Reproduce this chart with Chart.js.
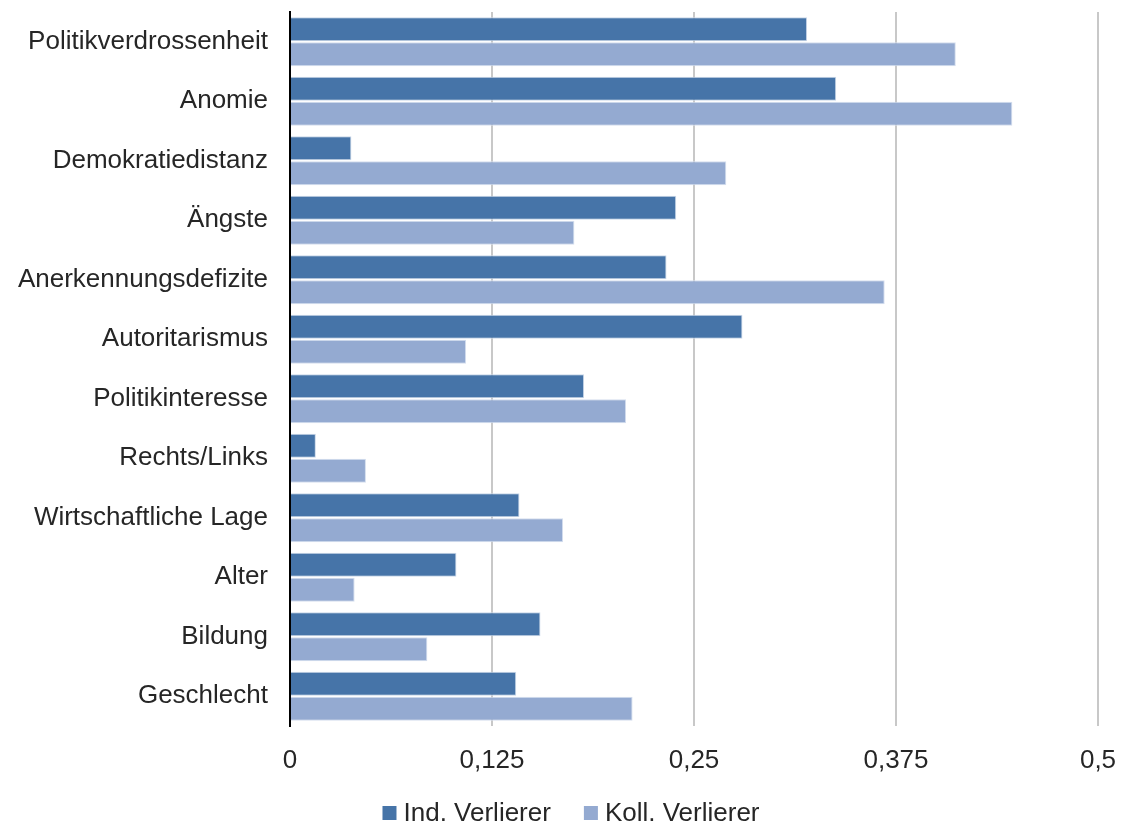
<!DOCTYPE html>
<html>
<head>
<meta charset="utf-8">
<script src="https://cdn.jsdelivr.net/npm/chart.js@4/dist/chart.umd.min.js"></script>
<style>
  html, body { margin: 0; padding: 0; background: #fff; }
  #wrap { width: 1122px; height: 825px; }
</style>
</head>
<body>
<div id="wrap"><canvas id="c" width="1122" height="825"></canvas></div>
<script>
const categories = [
  'Politikverdrossenheit', 'Anomie', 'Demokratiedistanz', 'Ängste',
  'Anerkennungsdefizite', 'Autoritarismus', 'Politikinteresse', 'Rechts/Links',
  'Wirtschaftliche Lage', 'Alter', 'Bildung', 'Geschlecht'
];
const indVerlierer  = [0.320, 0.338, 0.038, 0.239, 0.233, 0.280, 0.182, 0.016, 0.142, 0.103, 0.155, 0.140];
const kollVerlierer = [0.412, 0.447, 0.270, 0.176, 0.368, 0.109, 0.208, 0.047, 0.169, 0.040, 0.085, 0.212];
const tickValues = [0, 0.125, 0.25, 0.375, 0.5];
const seriesNames = ['Ind. Verlierer', 'Koll. Verlierer'];

const FONT = '"Liberation Sans", Arial, sans-serif';
const TEXT = '#262626';

// Legend drawn on the canvas under the axis labels
const bottomLegend = {
  id: 'bottomLegend',
  afterDraw(chart) {
    const ctx = chart.ctx;
    ctx.save();
    ctx.font = '26px ' + FONT;
    ctx.textBaseline = 'middle';
    const box = 14, gap = 7, itemGap = 33;
    const items = chart.data.datasets.map(d => ({ label: d.label, color: d.backgroundColor, w: box + gap + ctx.measureText(d.label).width }));
    const total = items.reduce((s, it) => s + it.w, 0) + itemGap * (items.length - 1);
    let x = (chart.width - total) / 2 + 10;
    const y = 813;
    items.forEach(it => {
      ctx.fillStyle = it.color;
      ctx.fillRect(x, y - box / 2, box, box);
      ctx.fillStyle = TEXT;
      ctx.textAlign = 'left';
      ctx.fillText(it.label, x + box + gap, y + 1);
      x += it.w + itemGap;
    });
    ctx.restore();
  }
};

function noScalePadding(scale) {
  scale.paddingTop = 0;
  scale.paddingBottom = 0;
  scale.paddingLeft = 0;
  scale.paddingRight = 0;
}

new Chart(document.getElementById('c'), {
  type: 'bar',
  data: {
    labels: categories,
    datasets: [
      { label: seriesNames[0], data: indVerlierer, backgroundColor: '#4674a8', borderColor: '#c9d6e8', borderWidth: 1, barPercentage: 0.96, categoryPercentage: 0.84 },
      { label: seriesNames[1], data: kollVerlierer, backgroundColor: '#94aad1', borderColor: '#d4deee', borderWidth: 1, barPercentage: 0.96, categoryPercentage: 0.84 }
    ]
  },
  options: {
    indexAxis: 'y',
    responsive: false,
    animation: false,
    devicePixelRatio: 1,
    layout: { padding: { top: 12, right: 24, left: 0, bottom: 0 } },
    plugins: {
      legend: { display: false },
      tooltip: { enabled: false }
    },
    scales: {
      x: {
        min: 0, max: 0.5,
        afterBuildTicks(scale) { scale.ticks = tickValues.map(v => ({ value: v })); },
        afterFit(scale) { scale.height = 99; noScalePadding(scale); },
        grid: { color: '#c8c8c8', lineWidth: 2, drawTicks: false },
        border: { display: false },
        ticks: {
          padding: 19,
          color: TEXT,
          font: { family: FONT, size: 26 },
          callback: v => String(v).replace('.', ',')
        }
      },
      y: {
        afterFit(scale) { scale.width = 290; noScalePadding(scale); },
        grid: { display: false, drawTicks: false },
        border: { display: true, color: '#000', width: 2 },
        ticks: {
          padding: 22,
          color: TEXT,
          font: { family: FONT, size: 26 }
        }
      }
    }
  },
  plugins: [bottomLegend]
});
</script>
</body>
</html>
